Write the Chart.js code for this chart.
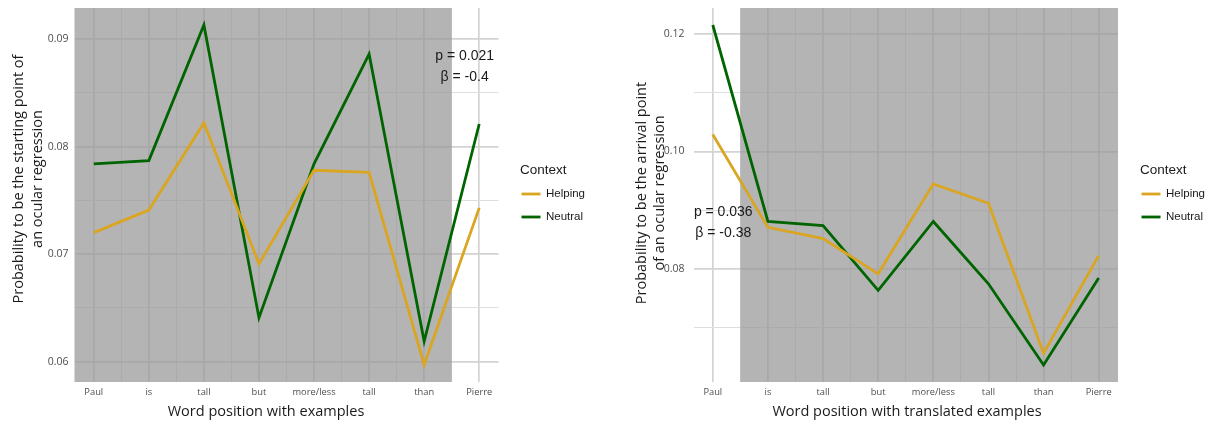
<!DOCTYPE html>
<html>
<head>
<meta charset="utf-8">
<script src="https://cdn.jsdelivr.net/npm/chart.js@4.4.1/dist/chart.umd.min.js"></script>
<style>
  html, body { margin: 0; padding: 0; background: #ffffff; }
  body { width: 1209px; height: 421px; position: relative; overflow: hidden; }
  .panel { position: absolute; top: 0; height: 421px; }
  #startPanel { left: 0; width: 615px; }
  #arrivalPanel { left: 615px; width: 594px; }
</style>
</head>
<body>
<div class="panel" id="startPanel"><canvas id="startChart"></canvas></div>
<div class="panel" id="arrivalPanel"><canvas id="arrivalChart"></canvas></div>
<script>
// Word positions of the example sentence
const categories = ['Paul', 'is', 'tall', 'but', 'more/less', 'tall', 'than', 'Pierre'];

// Starting point of an ocular regression
const helpingStart = [0.0720, 0.0741, 0.0822, 0.0691, 0.0778, 0.0776, 0.0597, 0.0743];
const neutralStart = [0.0784, 0.0787, 0.0913, 0.0641, 0.0784, 0.0886, 0.0619, 0.0821];

// Arrival point of an ocular regression
const helpingArrival = [0.1029, 0.0871, 0.0852, 0.0792, 0.0945, 0.0912, 0.0657, 0.0823];
const neutralArrival = [0.1215, 0.0881, 0.0874, 0.0764, 0.0881, 0.0775, 0.0637, 0.0785];

// Y tick values (labelled) and the minor grid values between them
const startYMajor = [0.06, 0.07, 0.08, 0.09];
const startYLabels = ['0.06', '0.07', '0.08', '0.09'];
const startYMinor = [0.065, 0.075, 0.085];
const arrivalYMajor = [0.08, 0.10, 0.12];
const arrivalYLabels = ['0.08', '0.10', '0.12'];
const arrivalYMinor = [0.07, 0.09, 0.11];

// Shaded word range (in word-position units)
const startShade = [-Infinity, 6.5];
const arrivalShade = [0.5, Infinity];

// Statistics text
const startStats = ['p = 0.021', '\u03B2 = -0.4'];
const arrivalStats = ['p = 0.036', '\u03B2 = -0.38'];

const legendTitle = 'Context';
const seriesNames = ['Helping', 'Neutral'];
const seriesColors = ['#DAA520', '#006400'];

function points(values) {
  return values.map((v, i) => ({ x: i, y: v }));
}

function expanded(values) {
  const lo = Math.min(...values), hi = Math.max(...values);
  const pad = (hi - lo) * 0.05;
  return [lo - pad, hi + pad];
}

const isMajorX = v => Math.abs(v - Math.round(v)) < 1e-9;

function makeChart(canvasId, cfg) {
  const allValues = cfg.series.flat();
  const [yMin, yMax] = expanded(allValues);
  const n = categories.length - 1;
  const xTicks = [];
  for (let v = 0; v <= n + 1e-9; v += 0.5) xTicks.push(v);
  const yTicks = cfg.yMajor.concat(cfg.yMinor).sort((a, b) => a - b);
  const isMajorY = v => cfg.yMajor.some(m => Math.abs(m - v) < 1e-9);

  const overlay = {
    id: 'overlay',
    beforeDatasetsDraw(chart) {
      const { ctx, chartArea: a, scales: { x } } = chart;
      let x0 = x.getPixelForValue(cfg.shade[0]);
      let x1 = x.getPixelForValue(cfg.shade[1]);
      if (!isFinite(x0)) x0 = a.left;
      if (!isFinite(x1)) x1 = a.right;
      x0 = Math.max(a.left, x0); x1 = Math.min(a.right, x1);
      ctx.save();
      ctx.fillStyle = 'rgba(151,151,151,0.72)';
      ctx.fillRect(x0, a.top, x1 - x0, a.bottom - a.top);
      ctx.restore();
    },
    afterDatasetsDraw(chart) {
      const { ctx, scales: { x, y } } = chart;
      // statistics text
      ctx.save();
      ctx.font = '14px "Liberation Sans", Arial, sans-serif';
      ctx.fillStyle = '#1a1a1a';
      ctx.textAlign = 'center';
      ctx.textBaseline = 'middle';
      const cx = x.getPixelForValue(cfg.statsAt[0]);
      const cy = y.getPixelForValue(cfg.statsAt[1]);
      const lh = 20.5;
      cfg.stats.forEach((t, i) => {
        ctx.fillText(t, cx, cy + (i - (cfg.stats.length - 1) / 2) * lh);
      });
      ctx.restore();
    },
    afterDraw(chart) {
      const { ctx } = chart;
      ctx.save();
      // axis titles
      ctx.fillStyle = '#1a1a1a';
      ctx.font = '14.5px "Open Sans", sans-serif';
      ctx.textAlign = 'center';
      ctx.textBaseline = 'middle';
      ctx.fillText(cfg.xTitle, cfg.xTitlePos[0], cfg.xTitlePos[1]);
      cfg.yTitle.forEach((t, i) => {
        ctx.save();
        ctx.translate(cfg.yTitlePos[0] + i * cfg.yTitleGap, cfg.yTitlePos[1]);
        ctx.rotate(-Math.PI / 2);
        ctx.fillText(t, 0, 0);
        ctx.restore();
      });
      // legend
      const [lx, ly] = cfg.legendPos;
      ctx.textAlign = 'left';
      ctx.font = '13.5px "Liberation Sans", Arial, sans-serif';
      ctx.fillText(legendTitle, lx, ly);
      ctx.font = '11.5px "Liberation Sans", Arial, sans-serif';
      chart.data.datasets.forEach((ds, i) => {
        const ky = ly + 24 + i * 23;
        ctx.strokeStyle = ds.borderColor;
        ctx.lineWidth = 2.8;
        ctx.beginPath();
        ctx.moveTo(lx + 1.5, ky);
        ctx.lineTo(lx + 20.5, ky);
        ctx.stroke();
        ctx.fillStyle = '#1a1a1a';
        ctx.fillText(ds.label, lx + 26, ky);
      });
      ctx.restore();
    }
  };

  return new Chart(document.getElementById(canvasId), {
    type: 'line',
    data: {
      datasets: cfg.series.map((vals, i) => ({
        label: seriesNames[i],
        data: points(vals),
        borderColor: seriesColors[i],
        backgroundColor: seriesColors[i],
        borderWidth: 2.8,
        pointRadius: 0,
        tension: 0,
        fill: false
      }))
    },
    options: {
      responsive: true,
      maintainAspectRatio: false,
      animation: false,
      events: [],
      layout: { padding: { top: 8, right: cfg.padRight, bottom: 0, left: 0 } },
      plugins: { legend: { display: false }, tooltip: { enabled: false } },
      scales: {
        x: {
          type: 'linear',
          min: -0.05 * n,
          max: n * 1.05,
          afterBuildTicks: s => { s.ticks = xTicks.map(v => ({ value: v })); },
          afterFit: s => { s.height = 39; s.paddingLeft = 0; s.paddingRight = 0; },
          border: { display: false },
          grid: {
            drawTicks: false,
            color: c => isMajorX(c.tick.value) ? '#d3d3d3' : '#dedede',
            lineWidth: c => isMajorX(c.tick.value) ? 1.7 : 1
          },
          ticks: {
            autoSkip: false,
            maxRotation: 0,
            padding: 5,
            color: '#4d4d4d',
            font: { family: 'Open Sans', size: 9.3 },
            callback: v => isMajorX(v) ? categories[Math.round(v)] : ''
          }
        },
        y: {
          type: 'linear',
          min: yMin,
          max: yMax,
          afterBuildTicks: s => { s.ticks = yTicks.map(v => ({ value: v })); },
          afterFit: s => { s.width = cfg.yWidth; s.paddingTop = 0; s.paddingBottom = 0; },
          border: { display: false },
          grid: {
            drawTicks: false,
            color: c => isMajorY(c.tick.value) ? '#d3d3d3' : '#dedede',
            lineWidth: c => isMajorY(c.tick.value) ? 1.7 : 1
          },
          ticks: {
            autoSkip: false,
            padding: cfg.yPad,
            color: '#4d4d4d',
            font: { family: 'Open Sans', size: 10.5 },
            callback: v => {
              const k = cfg.yMajor.findIndex(m => Math.abs(m - v) < 1e-9);
              return k >= 0 ? cfg.yLabels[k] : '';
            }
          }
        }
      }
    },
    plugins: [overlay]
  });
}

makeChart('startChart', {
  series: [helpingStart, neutralStart],
  yMajor: startYMajor, yLabels: startYLabels, yMinor: startYMinor,
  shade: startShade,
  stats: startStats, statsAt: [6.735, 0.08743],
  xTitle: 'Word position with examples', xTitlePos: [266, 411.5],
  yTitle: ['Probability to be the starting point of', 'an ocular regression'],
  yTitlePos: [19, 179], yTitleGap: 18.5,
  legendPos: [520, 170],
  padRight: 116.5, yWidth: 74.5, yPad: 6
});

makeChart('arrivalChart', {
  series: [helpingArrival, neutralArrival],
  yMajor: arrivalYMajor, yLabels: arrivalYLabels, yMinor: arrivalYMinor,
  shade: arrivalShade,
  stats: arrivalStats, statsAt: [0.19, 0.0879],
  xTitle: 'Word position with translated examples', xTitlePos: [292, 411.5],
  yTitle: ['Probability to be the arrival point', 'of an ocular regression'],
  yTitlePos: [27, 193], yTitleGap: 17.5,
  legendPos: [525, 170],
  padRight: 91, yWidth: 78.5, yPad: 9
});
</script>
</body>
</html>
